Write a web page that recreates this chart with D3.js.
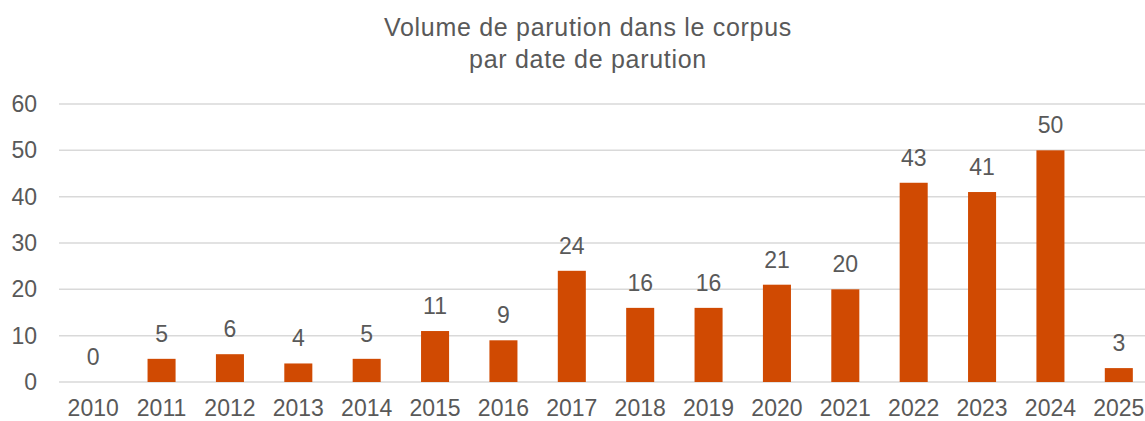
<!DOCTYPE html>
<html>
<head>
<meta charset="utf-8">
<script src="https://cdn.jsdelivr.net/npm/d3@7"></script>
<style>
  body { margin: 0; background: #fff; }
  svg text { font-family: "Liberation Sans", Arial, sans-serif; fill: #595959; }
</style>
</head>
<body>
<svg id="chart" width="1145" height="421"></svg>
<script>
const years = ["2010","2011","2012","2013","2014","2015","2016","2017","2018","2019","2020","2021","2022","2023","2024","2025"];
const counts = [0,5,6,4,5,11,9,24,16,16,21,20,43,41,50,3];
const yTicks = [0,10,20,30,40,50,60];
const titleLines = ["Volume de parution dans le corpus", "par date de parution"];

const svg = d3.select("#chart");
const plotLeft = 59, plotRight = 1153, plotTop = 104, plotBottom = 382;

const x = d3.scaleBand()
    .domain(years)
    .range([plotLeft, plotRight])
    .paddingInner(0.59)
    .paddingOuter(0.295);

const y = d3.scaleLinear()
    .domain([0, 60])
    .range([plotBottom, plotTop]);

// title
svg.append("g")
    .selectAll("text")
    .data(titleLines)
    .join("text")
    .attr("x", 588)
    .attr("y", (d, i) => 36 + i * 32)
    .attr("text-anchor", "middle")
    .style("font-size", "25px")
    .style("letter-spacing", "0.7px")
    .text(d => d);

// gridlines
svg.append("g")
    .selectAll("line")
    .data(yTicks)
    .join("line")
    .attr("x1", plotLeft)
    .attr("x2", 1145)
    .attr("y1", d => y(d))
    .attr("y2", d => y(d))
    .attr("stroke", "#d9d9d9")
    .attr("stroke-width", 1.5);

// y axis labels
const yAxis = svg.append("g")
    .attr("transform", "translate(" + plotLeft + ",0)")
    .call(d3.axisLeft(y).tickValues(yTicks).tickSize(0).tickPadding(22));
yAxis.select(".domain").remove();
yAxis.selectAll("text").style("font-size", "23px").attr("fill", "#595959");

// bars
svg.append("g")
    .selectAll("rect")
    .data(counts)
    .join("rect")
    .attr("x", (d, i) => x(years[i]))
    .attr("y", d => y(d))
    .attr("width", x.bandwidth())
    .attr("height", d => plotBottom - y(d))
    .attr("fill", "#d04a02");

// value labels
svg.append("g")
    .selectAll("text")
    .data(counts)
    .join("text")
    .attr("x", (d, i) => x(years[i]) + x.bandwidth() / 2)
    .attr("y", d => y(d) - 17)
    .attr("text-anchor", "middle")
    .style("font-size", "23px")
    .text(d => d);

// x axis labels
const xAxis = svg.append("g")
    .attr("transform", "translate(0," + plotBottom + ")")
    .call(d3.axisBottom(x).tickSize(0).tickPadding(18));
xAxis.select(".domain").remove();
xAxis.selectAll("text").style("font-size", "23px").attr("fill", "#595959");
</script>
</body>
</html>
